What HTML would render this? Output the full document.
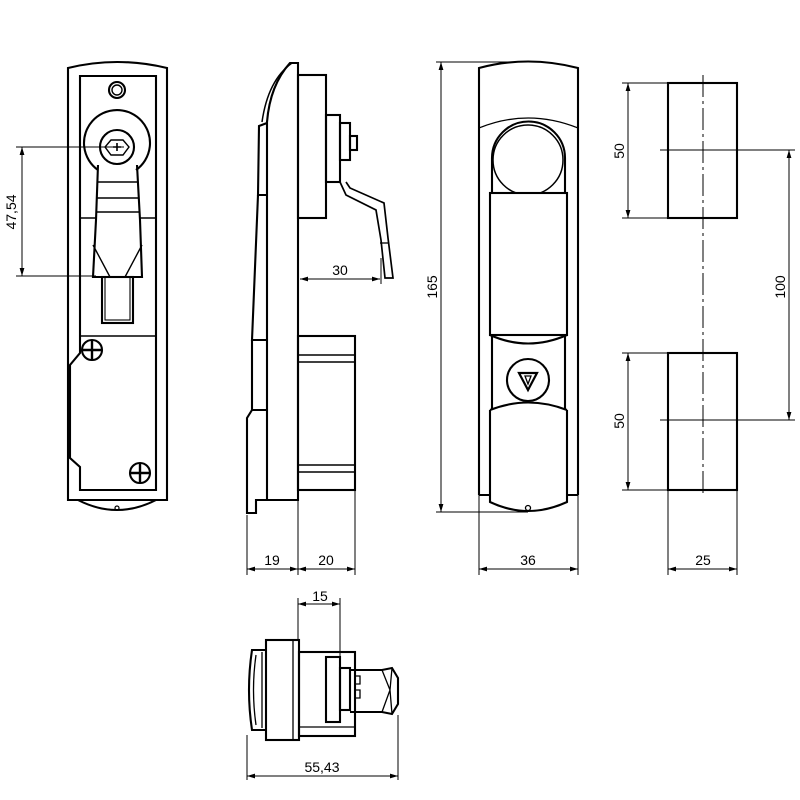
<!DOCTYPE html>
<html><head><meta charset="utf-8"><style>html,body{margin:0;padding:0;background:#fff}svg{display:block}</style></head>
<body>
<svg width="800" height="800" viewBox="0 0 800 800" xmlns="http://www.w3.org/2000/svg" font-family="Liberation Sans, sans-serif" font-size="14">
<defs>
<marker id="a" viewBox="0 0 10 10" refX="10" refY="5" markerWidth="8" markerHeight="8" orient="auto-start-reverse"><path d="M0,2 L10,5 L0,8 z" fill="#000"/></marker>
</defs>
<g fill="none" stroke="#000" stroke-width="2.1">
<!-- View 1 front -->
<path d="M68,500 L68,68 Q117,56 167,68 L167,500 Z"/>
<path d="M80,353 L80,76 L156,76 L156,490 L80,490 L80,467 L70,458 L70,365 Z"/>
<circle cx="117" cy="90" r="8"/><circle cx="117" cy="90" r="5" stroke-width="1.4"/>
<path d="M98,170 A33,33 0 1 1 136,170" />
<circle cx="117" cy="147" r="17"/>
<polygon points="111,140 123,140 129,147 123,155 111,155 105,147" stroke-width="1.4"/>
<path d="M113,147h8M117,143v8" stroke-width="1.6"/>
<path d="M98,165 L96,220 L93,277 L142,277 L140,220 L137,165"/>
<path d="M97,182h41M97,198h41M96,212h43" stroke-width="1.4"/>
<path d="M93,245 L110,277 M142,245 L125,277" stroke-width="1.4"/>
<path d="M80,218h16M140,218h16" stroke-width="1.4"/>
<rect x="102" y="277" width="31" height="46"/><rect x="105" y="277" width="25" height="43" stroke-width="1.1"/>
<path d="M80,336h76" stroke-width="1.4"/>
<circle cx="92" cy="350" r="10"/><path d="M82,350h20M92,340v20" stroke-width="2.4"/>
<circle cx="140" cy="473" r="10"/><path d="M130,473h20M140,463v20" stroke-width="2.4"/>
<path d="M78,500 Q117,520 156,500"/>
<circle cx="117" cy="508" r="2" stroke-width="1.2"/>

<!-- View 2 side -->
<path d="M298,63 L298,500 L267,500 L267,122 Q270,85 290,63 Z"/>
<path d="M292,63 Q268,80 262,122" stroke-width="1.5"/>
<path d="M267,123 L259,126 L258,195 L267,195"/>
<path d="M258,195 L252,340 L267,340"/>
<path d="M252,340 L252,410 L267,410"/>
<path d="M252,410 L247,418 L247,513 L256,513 L256,500 L267,500"/>
<rect x="298" y="75" width="28" height="143"/>
<rect x="326" y="115" width="14" height="67"/>
<rect x="340" y="123" width="10" height="37"/>
<rect x="350" y="136" width="7" height="14"/>
<path d="M340,182 L346,195 L376,210 L381,240 L385,278 L393,278 L388,238 L384,203 L350,188 L346,182" stroke-width="1.7"/>
<path d="M380,243h8" stroke-width="1.3"/>
<rect x="298" y="336" width="57" height="154"/>
<path d="M298,355h57M298,362h57M298,465h57M298,472h57" stroke-width="1.4"/>

<!-- View 3 -->
<path d="M479,495 L479,68 Q528,55 578,68 L578,495"/>
<path d="M479,128 Q528,108 578,128" stroke-width="1.3"/>
<path d="M492,195 L492,158 A36,36 0 0 1 565,158 L565,195"/>
<circle cx="528" cy="160" r="35" stroke-width="1.5"/>
<rect x="490" y="193" width="77" height="142" fill="#fff"/>
<path d="M490,335 Q528,352 567,335"/>
<path d="M492,335 L492,410 M565,335 L565,410"/>
<path d="M490,410 Q528,395 567,410"/>
<path d="M490,410 L490,502 Q528,520 567,502 L567,410"/>
<path d="M479,495h11M567,495h11"/>
<circle cx="528" cy="380" r="21"/>
<polygon points="519,373 537,373 528,390" stroke-width="2.2"/>
<polygon points="525,376 531,376 528,384" stroke-width="1.3"/>
<circle cx="528" cy="508" r="2.5" stroke-width="1.3"/>

<!-- View 4 -->
<rect x="668" y="83" width="69" height="135"/>
<rect x="668" y="353" width="69" height="137"/>

<!-- View 5 bottom -->
<path d="M266,650 L252,650 Q246,690 252,730 L266,730"/>
<path d="M256,655 Q251,690 256,725 M262,652v76" stroke-width="1.3"/>
<rect x="266" y="640" width="33" height="100"/>
<path d="M293,640v100" stroke-width="1.3"/>
<rect x="299" y="652" width="56" height="84"/>
<path d="M299,727h56" stroke-width="1.3"/>
<rect x="326" y="657" width="14" height="65"/>
<rect x="340" y="668" width="10" height="42"/>
<path d="M350,670 L382,670 L392,668 L398,678 L398,704 L392,714 L382,712 L350,712"/>
<path d="M382,670 L390,690 L382,712 M392,668 L390,690 L392,714" stroke-width="1.3"/>
<path d="M354,676h6v8h-6M354,690h6v8h-6" stroke-width="1.3"/>
</g>

<!-- dimensions -->
<g fill="none" stroke="#000" stroke-width="1">
<path d="M16,147h108M16,276h80"/>
<line x1="22" y1="147" x2="22" y2="276" marker-start="url(#a)" marker-end="url(#a)"/>
<line x1="300" y1="279" x2="380" y2="279" marker-start="url(#a)" marker-end="url(#a)"/>
<path d="M381,258v26"/>
<path d="M247,515v60M298,500v75M355,490v85"/>
<line x1="247" y1="569" x2="298" y2="569" marker-start="url(#a)" marker-end="url(#a)"/>
<line x1="298" y1="569" x2="355" y2="569" marker-start="url(#a)" marker-end="url(#a)"/>
<path d="M436,62h92M436,512h92"/>
<line x1="441" y1="62" x2="441" y2="512" marker-start="url(#a)" marker-end="url(#a)"/>
<path d="M479,495v80M578,495v80"/>
<line x1="479" y1="569" x2="578" y2="569" marker-start="url(#a)" marker-end="url(#a)"/>
<path d="M622,83h46M622,218h46M622,353h46M622,490h46"/>
<line x1="628" y1="83" x2="628" y2="218" marker-start="url(#a)" marker-end="url(#a)"/>
<line x1="628" y1="353" x2="628" y2="490" marker-start="url(#a)" marker-end="url(#a)"/>
<path d="M660,150h135M660,420h135"/>
<line x1="789" y1="150" x2="789" y2="420" marker-start="url(#a)" marker-end="url(#a)"/>
<path d="M703,75v420" stroke-dasharray="22,4,3,4"/>
<path d="M668,490v85M737,490v85"/>
<line x1="668" y1="569" x2="737" y2="569" marker-start="url(#a)" marker-end="url(#a)"/>
<path d="M298,598v42M340,598v60"/>
<line x1="298" y1="604" x2="340" y2="604" marker-start="url(#a)" marker-end="url(#a)"/>
<path d="M247,735v45M398,715v65"/>
<line x1="247" y1="776" x2="398" y2="776" marker-start="url(#a)" marker-end="url(#a)"/>
</g>
<g fill="#000" text-anchor="middle">
<text transform="translate(16,212) rotate(-90)">47,54</text>
<text x="340" y="275">30</text>
<text x="272" y="565">19</text>
<text x="326" y="565">20</text>
<text transform="translate(437,287) rotate(-90)">165</text>
<text x="528" y="565">36</text>
<text transform="translate(624,151) rotate(-90)">50</text>
<text transform="translate(624,421) rotate(-90)">50</text>
<text transform="translate(785,287) rotate(-90)">100</text>
<text x="703" y="565">25</text>
<text x="320" y="601">15</text>
<text x="322" y="772">55,43</text>
</g>
</svg>
</body></html>
